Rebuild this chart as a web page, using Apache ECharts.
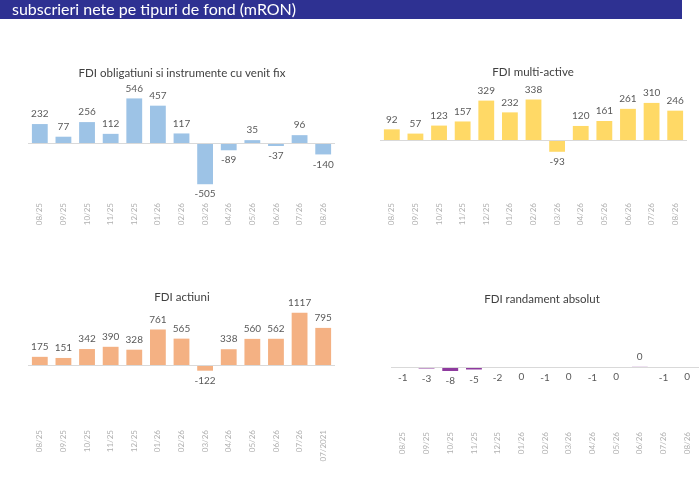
<!DOCTYPE html>
<html lang="ro">
    <head>
        <meta charset="UTF-8" />
        <title>subscrieri nete pe tipuri de fond</title>
        <script src="https://cdn.jsdelivr.net/npm/echarts@6/dist/echarts.min.js"></script>
        <style>
            html, body { margin: 0; padding: 0; background: #fff; }
            #chart { width: 700px; height: 488px; }
        </style>
    </head>
    <body>
        <div id="chart"></div>
        <script>
            const months = ["08/25", "09/25", "10/25", "11/25", "12/25", "01/26", "02/26",
                "03/26", "04/26", "05/26", "06/26", "07/26", "08/26"];
            const monthsActiuni = ["08/25", "09/25", "10/25", "11/25", "12/25", "01/26", "02/26",
                "03/26", "04/26", "05/26", "06/26", "07/26", "07/2021"];

            const obligatiuni = [232, 77, 256, 112, 546, 457, 117, -505, -89, 35, -37, 96, -140];
            const multiActive = [92, 57, 123, 157, 329, 232, 338, -93, 120, 161, 261, 310, 246];
            const actiuni = [175, 151, 342, 390, 328, 761, 565, -122, 338, 560, 562, 1117, 795];
            // shown rounded, the "0" ones are small fractions
            const randament = [-1, -3, -8, -5, -2, -0.3, -1, -0.3, -1, -0.3, 0.3, -1, -0.3];

            const panels = [
                { title: "FDI obligatiuni si instrumente cu venit fix", cats: months, data: obligatiuni,
                  color: "#9dc3e6", left: 28, top: 94, width: 307, height: 98, range: 600, margin: 11, tx: 177, ty: 62 },
                { title: "FDI multi-active", cats: months, data: multiActive,
                  color: "#ffd966", left: 380, top: 92, width: 307, height: 97, range: 400, margin: 14, tx: 528, ty: 61 },
                { title: "FDI actiuni", cats: monthsActiuni, data: actiuni,
                  color: "#f4b183", left: 28, top: 309, width: 307, height: 112, range: 1200, margin: 9, tx: 177, ty: 286 },
                { title: "FDI randament absolut", cats: months, data: randament,
                  color: "#8e3a9e", left: 391, top: 317, width: 308, height: 100, range: 100, margin: 15, tx: 537, ty: 288 },
            ];

            const font = "Lato, 'Open Sans', sans-serif";
            const chart = echarts.init(document.getElementById("chart"));

            const option = {
                animation: false,
                textStyle: { fontFamily: font },
                graphic: [
                    { type: "rect", shape: { x: 0, y: 0, width: 682, height: 19 }, style: { fill: "#2e3192" } },
                    { type: "text", x: 12, y: 10,
                      style: { text: "subscrieri nete pe tipuri de fond (mRON)", fill: "#fff",
                               font: "16px " + font, verticalAlign: "middle" } },
                ],
                title: panels.map((p) => ({
                    text: p.title,
                    left: p.tx,
                    top: p.ty,
                    textAlign: "center",
                    textStyle: { fontSize: 11.5, fontWeight: "normal", color: "#404040", fontFamily: font },
                })),
                grid: panels.map((p) => ({ left: p.left, top: p.top, width: p.width, height: p.height })),
                xAxis: panels.map((p, i) => ({
                    type: "category",
                    gridIndex: i,
                    data: p.cats,
                    position: "bottom",
                    axisLine: { show: false },
                    axisTick: { show: false },
                    axisLabel: { rotate: 90, fontSize: 8, color: "#b0b0b0", margin: p.margin, interval: 0 },
                })),
                yAxis: panels.map((p, i) => ({
                    type: "value",
                    gridIndex: i,
                    min: -p.range,
                    max: p.range,
                    show: false,
                })),
                series: panels.map((p, i) => ({
                    type: "bar",
                    xAxisIndex: i,
                    yAxisIndex: i,
                    barCategoryGap: "33%",
                    itemStyle: { color: p.color },
                    data: p.data.map((v) => ({
                        value: v,
                        label: { position: v < 0 ? "bottom" : "top" },
                    })),
                    label: {
                        show: true,
                        distance: 5,
                        fontSize: 10,
                        color: "#595959",
                        formatter: (d) => String(Math.round(d.value)),
                    },
                    markLine: {
                        silent: true,
                        symbol: "none",
                        label: { show: false },
                        lineStyle: { color: "#d9d9d9", width: 1, type: "solid" },
                        data: [{ yAxis: 0 }],
                    },
                })),
            };

            chart.setOption(option);
        </script>
    </body>
</html>
